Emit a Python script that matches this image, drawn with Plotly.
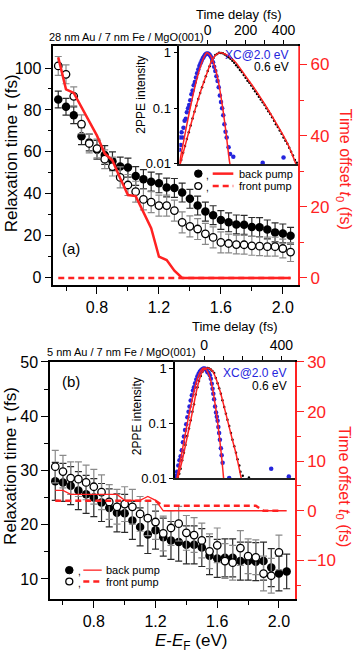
import plotly.graph_objects as go

W, H = 353, 659
RED = '#ff2222'
BLUE = '#2525dd'
FONT = 'Arial, Liberation Sans, sans-serif'

# ---------------- data ----------------
E = [0.55, 0.60, 0.65, 0.70, 0.75, 0.80, 0.85, 0.90, 0.95, 1.00, 1.05,
     1.10, 1.15, 1.20, 1.25, 1.30, 1.35, 1.40, 1.45, 1.50, 1.55, 1.60,
     1.65, 1.70, 1.75, 1.80, 1.85, 1.90, 1.95, 2.00, 2.05]

# (a) 28 nm Au / 7 nm Fe / MgO(001)
tau_back_a = [85, 81.5, 77.5, 67.5, 64.5, 61, 58.5, 55.5, 53, 52.5, 48.5,
              47, 45.8, 45, 43, 42.8, 40.6, 37.6, 34.4, 31.5, 29.8, 27.5,
              26.4, 25.4, 25.2, 24.2, 24.1, 23, 21.6, 21.1, 20]
err_back_a = [4, 4, 4, 4, 4, 4.5, 4.5, 4.5, 4.5, 4.5, 4.5,
              4.5, 4.5, 4.5, 4.5, 4.5, 4.5, 4.5, 4.5, 4.5, 4.5, 4.5,
              4.5, 4.5, 4.5, 4.5, 4.5, 4.5, 4.5, 4.5, 4]
tau_front_a = [101, 97, 86.5, 73.2, 64, 61.6, 56.5, 53, 47.8, 44.2, 41,
               37.3, 36, 34.4, 34.4, 32, 26.4, 24.5, 23.2, 20.9, 19.2, 16.8,
               16.3, 15.8, 15.7, 15.2, 15, 14.8, 14.8, 13.9, 12.2]
err_front_a = [4.5, 4.5, 4.5, 4.5, 4.5, 4.5, 4.5, 4.5, 5, 5, 5,
               5, 5, 5, 5, 5, 5, 5, 5, 5, 5, 5,
               4.5, 4.5, 4.5, 4.5, 4.5, 4.5, 4.5, 4.5, 4.5]
t0_back_a = [62, 53, 52, 48, 44, 40, 35, 33, 28, 23.3, 23,
             18.5, 14, 6, 5, 2, 0, 0, 0, 0, 0, 0,
             0, 0, 0, 0, 0, 0, 0, 0, 0]
t0_front_a = [0, 0, 0, 0, 0, 0, 0, 0, 0, 0, 0,
              0, 0, 0, 0, 0, 0, 0, 0, 0, 0, 0,
              0, 0, 0, 0, 0, 0, 0, 0, 0]

# (b) 5 nm Au / 7 nm Fe / MgO(001)
tau_back_b = [28.0, 27.8, 27.2, 26.3, 25.6, 25.0, 24.1, 23.1, 22.2, 22.1, 20.8,
              19.6, 18.2, 19.0, 17.7, 17.1, 16.8, 16.3, 16.3, 15.8, 14.3, 13.8,
              13.9, 13.9, 13.3, 13.3, 13.2, 13.3, 12.1, 11.0, 11.4]
err_back_b = [3.5, 3.5, 3.5, 3.5, 3.5, 3.5, 3.5, 3.5, 3.5, 3.5, 3.5,
              3.5, 3.5, 3.5, 3.5, 3.5, 3.5, 3.5, 3.5, 3.5, 3.5, 3.5,
              3.5, 3.5, 3.5, 3.5, 3.5, 3.5, 3.5, 3.2, 3.2]
E_front_b = [0.55, 0.60, 0.65, 0.70, 0.75, 0.80, 0.85, 0.90, 0.95, 1.00,
             1.05, 1.10, 1.15, 1.20, 1.25, 1.30, 1.35, 1.40, 1.45, 1.50,
             1.55, 1.60, 1.65, 1.70, 1.75, 1.80, 1.85, 1.90, 1.95, 2.00]
tau_front_b = [30.7, 29.8, 28.6, 28.4, 27.8, 27.0, 26.0, 24.2, 23.3, 23.8,
               23.3, 22.0, 21.2, 20.5, 18.4, 19.4, 20.2, 18.5, 18.1, 17.1,
               15.1, 16.2, 13.3, 13.0, 15.7, 14.2, 14.0, 11.0, 10.6, 14.9]
err_front_b = [3.0, 3.0, 3.0, 3.2, 3.2, 3.2, 3.2, 3.2, 3.2, 3.2,
               3.2, 3.2, 3.2, 3.2, 3.2, 3.2, 3.2, 3.2, 3.2, 3.2,
               3.2, 3.2, 3.2, 3.2, 3.2, 3.2, 3.2, 3.2, 3.2, 3.2]
t0_back_b = [4.1, 4.1, 3.3, 3.3, 3.3, 3.3, 3.3, 3.3, 3.3, 2.1, 2.1,
             2.1, 2.9, 2.1, 0, 0, 0, 0, 0, 0, 0, 0,
             0, 0, 0, 0, 0, 0, 0, 0, 0]
t0_front_b = [2.0, 2.0, 2.0, 2.0, 2.0, 2.0, 2.0, 2.0, 2.0, 2.0,
              2.0, 2.0, 2.0, 2.0, 1.0, 1.0, 1.0, 1.0, 1.0, 1.0,
              1.0, 1.0, 1.0, 1.0, 1.0, 1.0, 1.0, 0, 0, 0]

# insets: 2PPE intensity vs time delay (fs)
t_xc_a = [-150, -146, -142, -138, -133, -128, -122, -116, -110, -104,
          -98, -92, -86, -80, -74, -68, -62, -56, -50, -44,
          -38, -32, -26, -20, -14, -8, -2, 4, 10, 16,
          22, 28, 34, 40, 46, 52, 58, 64, 70, 76,
          82, 88, 94, 100, 110, 118, 135, 290, 400]
I_xc_a = [0.018, 0.03, 0.022, 0.037, 0.03, 0.045, 0.06, 0.065, 0.085, 0.1,
          0.115, 0.14, 0.18, 0.21, 0.26, 0.3, 0.36, 0.43, 0.5, 0.58,
          0.65, 0.72, 0.8, 0.86, 0.92, 0.96, 0.97, 0.96, 0.92, 0.86,
          0.79, 0.68, 0.56, 0.47, 0.38, 0.31, 0.24, 0.17, 0.13, 0.1,
          0.075, 0.052, 0.038, 0.03, 0.02, 0.015, 0.0135, 0.0105, 0.013]
tfit_xc_a = [-150, -125, -100, -75, -50, -25, -5, 15, 35, 55, 75, 95, 115, 121]
Ifit_xc_a = [0.01, 0.028, 0.076, 0.19, 0.42, 0.76, 1.0, 0.89, 0.6, 0.32,
             0.126, 0.04, 0.011, 0.0085]

t_06_a = [-140, -130, -120, -110, -100, -90, -80, -70, -60, -50,
          -40, -30, -20, -10, 0, 10, 20, 30, 40, 50,
          60, 70, 80, 90, 100, 110, 120, 130, 140, 150,
          160, 170, 180, 190, 200, 210, 220, 230, 240, 250,
          260, 270, 280, 290, 300, 310, 320, 330, 340, 350,
          360, 370, 380, 390, 400, 410, 420, 430, 440, 450,
          460, 470]
I_06_a = [0.0117, 0.0158, 0.0209, 0.0282, 0.0372, 0.049, 0.066, 0.087, 0.112, 0.148,
          0.19, 0.24, 0.30, 0.38, 0.47, 0.575, 0.71, 0.81, 0.91, 0.955,
          1.0, 0.995, 0.98, 0.93, 0.89, 0.83, 0.78, 0.72, 0.66, 0.60,
          0.55, 0.49, 0.45, 0.40, 0.355, 0.316, 0.29, 0.257, 0.229, 0.204,
          0.182, 0.162, 0.145, 0.129, 0.115, 0.1, 0.089, 0.079, 0.069, 0.060,
          0.052, 0.046, 0.040, 0.035, 0.030, 0.026, 0.023, 0.0195, 0.0166, 0.0141,
          0.0117, 0.0105]
tfit_06_a = [-145, -110, -75, -40, -5, 20, 45, 65, 90, 120, 150, 200,
             250, 300, 350, 400, 430, 465]
Ifit_06_a = [0.01, 0.028, 0.076, 0.19, 0.42, 0.71, 0.93, 1.0, 0.955, 0.83,
             0.66, 0.38, 0.22, 0.12, 0.063, 0.032, 0.02, 0.01]

t_xc_b = [-145, -139, -133, -127, -121, -115, -109, -104, -98, -92,
          -86, -80, -75, -69, -63, -57, -52, -46, -40, -34,
          -28, -22, -17, -11, -5, 0, 6, 12, 18, 24,
          30, 35, 40, 44, 48, 52, 57, 62, 66, 70,
          74, 78, 82, 87, 91, 96, 130, 347, 438]
I_xc_b = [0.011, 0.013, 0.017, 0.021, 0.025, 0.032, 0.045, 0.057, 0.075, 0.095,
          0.128, 0.16, 0.2, 0.257, 0.32, 0.39, 0.45, 0.53, 0.62, 0.71,
          0.79, 0.86, 0.9, 0.94, 0.97, 0.98, 0.97, 0.92, 0.84, 0.82,
          0.74, 0.64, 0.52, 0.42, 0.34, 0.27, 0.2, 0.155, 0.13, 0.11,
          0.085, 0.066, 0.05, 0.035, 0.026, 0.019, 0.01, 0.0148, 0.0107]
tfit_xc_b = [-140, -120, -100, -80, -60, -40, -20, 0, 15, 30, 45, 60, 75, 90, 101]
Ifit_xc_b = [0.01, 0.023, 0.055, 0.13, 0.28, 0.55, 0.85, 1.0, 0.9, 0.68,
             0.4, 0.19, 0.075, 0.026, 0.01]

t_06_b = [-135, -128, -121, -113, -104, -96, -87, -78, -69, -60,
          -52, -43, -34, -26, -17, -8, 0, 9, 18, 26,
          35, 43, 52, 61, 70, 78, 87, 95, 104, 113,
          121, 130, 139, 147, 156, 165, 173, 182, 188, 200, 232]
I_06_b = [0.0105, 0.012, 0.0148, 0.021, 0.029, 0.04, 0.058, 0.08, 0.112, 0.16,
          0.22, 0.33, 0.45, 0.58, 0.72, 0.86, 0.94, 0.98, 1.0, 0.98,
          0.94, 0.88, 0.81, 0.66, 0.53, 0.43, 0.34, 0.26, 0.195, 0.148,
          0.115, 0.088, 0.066, 0.05, 0.038, 0.029, 0.022, 0.017, 0.013, 0.011, 0.0102]
tfit_06_b = [-135, -110, -85, -60, -35, -10, 10, 25, 45, 65, 85, 105, 125,
             145, 165, 180, 192]
Ifit_06_b = [0.01, 0.023, 0.06, 0.16, 0.44, 0.84, 0.99, 0.99, 0.87, 0.6, 0.36,
             0.19, 0.1, 0.052, 0.028, 0.016, 0.01]


def px(x):
    return x / W


def py(y):
    return 1 - y / H


fig = go.Figure()


def add_panel(xa, ya, ya2, xi, yi, tb, eb, Ef, tf, ef, t0b, t0f, Ef0, solid_w,
              tx, Ix, tfx, Ifx, t6, I6, tf6, If6):
    fig.add_trace(go.Scatter(
        x=E, y=tb, mode='markers', xaxis=xa, yaxis=ya,
        marker=dict(color='black', size=8.5),
        error_y=dict(type='data', array=eb, color='#2a2a2a', thickness=1.2, width=3.5)))
    fig.add_trace(go.Scatter(
        x=Ef, y=tf, mode='markers', xaxis=xa, yaxis=ya,
        marker=dict(color='white', size=7.5, line=dict(color='black', width=1.3)),
        error_y=dict(type='data', array=ef, color='#8a8a8a', thickness=1.2, width=3.5)))
    fig.add_trace(go.Scatter(
        x=Ef0, y=t0f, mode='lines', xaxis=xa, yaxis=ya2,
        line=dict(color=RED, width=2.5, dash='6px,4px')))
    fig.add_trace(go.Scatter(
        x=E, y=t0b, mode='lines', xaxis=xa, yaxis=ya2,
        line=dict(color=RED, width=solid_w)))
    # inset
    fig.add_trace(go.Scatter(
        x=t6, y=I6, mode='markers', xaxis=xi, yaxis=yi,
        marker=dict(color='black', size=2.5)))
    fig.add_trace(go.Scatter(
        x=tx, y=Ix, mode='markers', xaxis=xi, yaxis=yi,
        marker=dict(color=BLUE, size=4.5)))
    for tt, II in ((tfx, Ifx), (tf6, If6)):
        fig.add_trace(go.Scatter(
            x=tt, y=II, mode='lines', xaxis=xi, yaxis=yi,
            line=dict(color=RED, width=1.5, shape='spline', smoothing=0.8)))


add_panel('x', 'y', 'y2', 'x3', 'y3', tau_back_a, err_back_a, E, tau_front_a,
          err_front_a, t0_back_a, t0_front_a, E, 2.5,
          t_xc_a, I_xc_a, tfit_xc_a, Ifit_xc_a, t_06_a, I_06_a, tfit_06_a, Ifit_06_a)
add_panel('x4', 'y4', 'y5', 'x6', 'y6', tau_back_b, err_back_b, E_front_b, tau_front_b,
          err_front_b, t0_back_b, t0_front_b, E_front_b, 1.3,
          t_xc_b, I_xc_b, tfit_xc_b, Ifit_xc_b, t_06_b, I_06_b, tfit_06_b, Ifit_06_b)

base = dict(showgrid=False, zeroline=False, showline=True, ticks='outside',
            linecolor='black', linewidth=1.5, tickcolor='black', tickwidth=1.3,
            tickfont=dict(size=16, color='black', family=FONT))


def ax(**kw):
    d = dict(base)
    d.update(kw)
    return d


def redax(**kw):
    return ax(linecolor=RED, tickcolor=RED, tickfont=dict(size=17, color=RED, family=FONT), **kw)


def inset_x(dom, anchor, rng, tv, mv):
    return ax(domain=dom, anchor=anchor, side='top', range=rng, tickvals=tv,
              ticklen=4, mirror=True, linewidth=1.8, linecolor='#222',
              tickfont=dict(size=14, color='black', family=FONT),
              minor=dict(tickvals=mv, ticklen=4, ticks='outside', tickcolor='black'))


def inset_y(dom, anchor, rng):
    return ax(domain=dom, anchor=anchor, type='log', range=rng,
              tickvals=[0.01, 0.1, 1], ticktext=['0.01', '0.1', '1'], ticklen=4,
              tickfont=dict(size=13, color='black', family=FONT))


fig.update_layout(
    width=W, height=H, margin=dict(l=0, r=0, t=0, b=0),
    paper_bgcolor='white', plot_bgcolor='white', showlegend=False,
    font=dict(family=FONT, color='black'),
    xaxis=ax(domain=[px(53.3), px(298.3)], anchor='y', range=[0.518, 2.10],
             tickvals=[0.8, 1.2, 1.6, 2.0], ticktext=['0.8', '1.2', '1.6', '2.0'],
             ticklen=7, mirror=True,
             minor=dict(tickvals=[0.6, 1.0, 1.4, 1.8], ticklen=4, ticks='outside')),
    yaxis=ax(domain=[py(283.3), py(38)], anchor='x', range=[-3.5, 110.5],
             tickvals=[0, 20, 40, 60, 80, 100], ticklen=7,
             minor=dict(tickvals=[10, 30, 50, 70, 90], ticklen=4, ticks='outside')),
    yaxis2=redax(overlaying='y', side='right', anchor='x', range=[-2.0, 65.2],
                 tickvals=[0, 20, 40, 60], ticklen=7,
                 minor=dict(tickvals=[10, 30, 50], ticklen=4, ticks='outside', tickcolor=RED)),
    xaxis3=inset_x([px(179.3), px(298.3)], 'y3', [-150, 478], [0, 200, 400], [100, 300]),
    yaxis3=inset_y([py(159), py(38)], 'x3', [-2, 0.123]),
    xaxis4=ax(domain=[px(50), px(295)], anchor='y4', range=[0.516, 2.104],
              tickvals=[0.8, 1.2, 1.6, 2.0], ticktext=['0.8', '1.2', '1.6', '2.0'],
              ticklen=7, mirror=True,
              minor=dict(tickvals=[0.6, 1.0, 1.4, 1.8], ticklen=4, ticks='outside')),
    yaxis4=ax(domain=[py(605.7), py(362.3)], anchor='x4', range=[6.3, 50],
              tickvals=[10, 20, 30, 40, 50], ticklen=7,
              minor=dict(tickvals=[15, 25, 35, 45], ticklen=4, ticks='outside')),
    yaxis5=redax(overlaying='y4', side='right', anchor='x4', range=[-17.8, 30],
                 tickvals=[-10, 0, 10, 20, 30], ticklen=7,
                 minor=dict(tickvals=[-15, -5, 5, 15, 25], ticklen=4, ticks='outside',
                            tickcolor=RED)),
    xaxis6=inset_x([px(175), px(295)], 'y6', [-150, 470], [0, 400], [100, 200, 300]),
    yaxis6=inset_y([py(481.5), py(362.3)], 'x6', [-2, 0.111]),
)

ann = []


def text(x, y, s, size, color='black', xanchor='center', angle=0):
    ann.append(dict(x=px(x), y=py(y), xref='paper', yref='paper', text=s,
                    showarrow=False, xanchor=xanchor, yanchor='middle',
                    textangle=angle, font=dict(size=size, color=color, family=FONT)))


rlab = 'Relaxation time \u03c4 (fs)'
olab = 'Time offset <i>t</i><sub>0</sub> (fs)'
# panel (a)
text(238, 6, 'Time delay (fs)', 13)
text(47, 29, '28 nm Au / 7 nm Fe / MgO(001)', 11, xanchor='left')
text(11, 148, rlab, 17, angle=-90)
text(344, 164, olab, 16, color=RED, angle=90)
text(141, 88, '2PPE intensity', 12, angle=-90)
text(291, 47.5, 'XC@2.0 eV', 12, color=BLUE, xanchor='right')
text(291, 59.5, '0.6 eV', 12, xanchor='right')
text(71, 245.7, '(a)', 15)
# panel (b)
text(234, 326, 'Time delay (fs)', 13)
text(45, 352.3, '5 nm Au / 7 nm Fe / MgO(001)', 11, xanchor='left')
text(11, 469, rlab, 17, angle=-90)
text(344, 490, olab, 16, color=RED, angle=90)
text(137, 418, '2PPE intensity', 12, angle=-90)
text(289, 373.5, 'XC@2.0 eV', 12, color=BLUE, xanchor='right')
text(289, 386.7, '0.6 eV', 12, xanchor='right')
text(71, 382.3, '(b)', 15)
text(191, 650, '<i>E</i>-<i>E</i><sub>F</sub> (eV)', 17)

shapes = []


def legend(xm, xc, x0, x1, xt, y1, y2, solid_w):
    r = 3.8
    shapes.append(dict(type='circle', xref='paper', yref='paper',
                       x0=px(xm - r), x1=px(xm + r), y0=py(y1 + r), y1=py(y1 - r),
                       fillcolor='black', line=dict(color='black', width=1)))
    shapes.append(dict(type='circle', xref='paper', yref='paper',
                       x0=px(xm - r + 0.3), x1=px(xm + r - 0.3), y0=py(y2 + r - 0.3),
                       y1=py(y2 - r + 0.3),
                       fillcolor='white', line=dict(color='black', width=1.3)))
    shapes.append(dict(type='line', xref='paper', yref='paper', x0=px(x0), x1=px(x1),
                       y0=py(y1), y1=py(y1), line=dict(color=RED, width=solid_w)))
    shapes.append(dict(type='line', xref='paper', yref='paper', x0=px(x0), x1=px(x1),
                       y0=py(y2), y1=py(y2), line=dict(color=RED, width=2.5, dash='6px,4px')))
    text(xc, y1 + 1.5, ',', 10)
    text(xc, y2 + 1.5, ',', 10)
    text(xt, y1, 'back pump', 11, xanchor='left')
    text(xt, y2, 'front pump', 11, xanchor='left')


legend(198.3, 207, 212.7, 233.3, 237.3, 169, 181.7, 2.5)
legend(69.3, 79, 83.3, 101.7, 104, 576, 587.7, 1.3)

fig.update_layout(annotations=ann, shapes=shapes)
fig.write_html('out.html', config={'displayModeBar': False},
               post_script="document.body.style.margin='0';")
